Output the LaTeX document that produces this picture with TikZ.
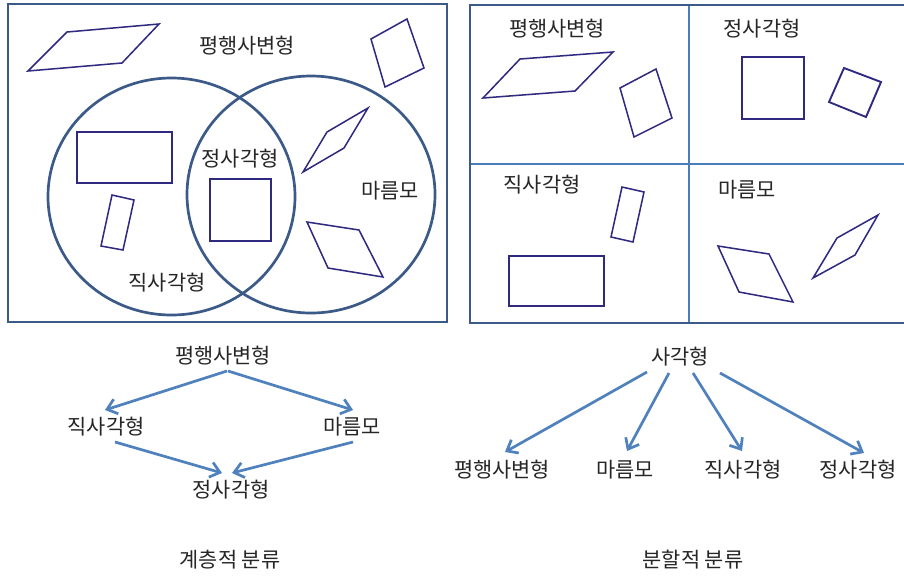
\documentclass[tikz,border=0pt]{standalone}
\usepackage{fontspec}
\setmainfont{Noto Sans CJK KR}
\usetikzlibrary{arrows.meta}
\definecolor{framec}{HTML}{3C5A88}
\definecolor{divc}{HTML}{4A7EBB}
\definecolor{shapec}{HTML}{2F2A80}
\definecolor{arrowc}{HTML}{4F81BD}
\begin{document}
\begin{tikzpicture}[x=0.03cm,y=-0.03cm,
  lbl/.style={font=\fontsize{17.8}{20}\selectfont, inner sep=1pt, text=black!85},
  fig/.style={draw=shapec, line width=1.3pt, line join=miter},
  framestyle/.style={draw=framec, line width=2.5pt},
  divstyle/.style={draw=divc, line width=2.3pt},
  conn/.style={draw=arrowc, line width=2.3pt, -{Straight Barb[length=8pt,width=13pt]}}]
\useasboundingbox (0,0) rectangle (904,577);
\fill[white] (0,0) rectangle (904,577);

% ---------- left panel (Venn) ----------
\draw[framestyle] (8,4) rectangle (447,322);
\draw[framestyle, line width=2.3pt] (171.5,196.5) ellipse [x radius=123.5, y radius=118.5];
\draw[framestyle, line width=2.3pt] (311,194.5) ellipse [x radius=124, y radius=118.5];

\draw[fig] (28,71) -- (67,32) -- (159,24) -- (122,63) -- cycle;
\draw[fig] (371,39) -- (407,19) -- (424,68) -- (385,87) -- cycle;
\draw[fig] (77,132) rectangle (172,183);
\draw[fig] (112,195) -- (134,200) -- (123,250) -- (101,246) -- cycle;
\draw[fig] (210,179) rectangle (271,241);
\draw[fig] (303,172) -- (327,132) -- (368,108) -- (344,148) -- cycle;
\draw[fig] (307,222) -- (359,230) -- (383,277) -- (328,268) -- cycle;

\node[lbl] (vp) at (247,46) {평행사변형};
\node[lbl] (vs) at (240,159) {정사각형};
\node[lbl] (vm) at (390,191) {마름모};
\node[lbl] (vr) at (167,283) {직사각형};

% ---------- right panel (partition) ----------
\draw[framestyle] (904,5) -- (470,5) -- (470,323) -- (904,323);
\draw[divstyle] (689,6) -- (689,322);
\draw[divstyle] (471,164) -- (904,164);

\draw[fig] (483,98) -- (520,59) -- (613,52) -- (575,91) -- cycle;
\draw[fig] (620,88) -- (656,69) -- (672,118) -- (634,137) -- cycle;
\draw[fig] (742,57) rectangle (804,119);
\draw[fig, line width=1.6pt] (829,102) -- (844,68) -- (881,82) -- (866,117) -- cycle;
\draw[fig] (622,187) -- (644,192) -- (633,242) -- (611,237) -- cycle;
\draw[fig] (509,256) rectangle (604,306);
\draw[fig] (718,246) -- (769,254) -- (793,302) -- (739,292) -- cycle;
\draw[fig] (813,278) -- (837,238) -- (878,215) -- (855,255) -- cycle;

\node[lbl] (pp) at (557,29) {평행사변형};
\node[lbl] (ps) at (762,29) {정사각형};
\node[lbl] (pr) at (542,185) {직사각형};
\node[lbl] (pm) at (747,190) {마름모};

% ---------- hierarchical tree ----------
\node[lbl] (hp) at (223,356) {평행사변형};
\node[lbl] (hr) at (106,427) {직사각형};
\node[lbl] (hm) at (352,427) {마름모};
\node[lbl] (hs) at (231,490) {정사각형};
\node[lbl] (hcap) at (230,560) {계층적 분류};

\draw[conn] ([shift={(4,15)}]hp.center) -- ([shift={(-1,-17)}]hr.center);
\draw[conn] ([shift={(5,15)}]hp.center) -- ([shift={(1,-17)}]hm.center);
\draw[conn] ([shift={(9,15)}]hr.center) -- ([shift={(-9,-17)}]hs.center);
\draw[conn] ([shift={(1,15)}]hm.center) -- ([shift={(1,-17)}]hs.center);

% ---------- partition tree ----------
\node[lbl] (q) at (680,357) {사각형};
\node[lbl] (d1) at (502,470) {평행사변형};
\node[lbl] (d2) at (625,470) {마름모};
\node[lbl] (d3) at (743,470) {직사각형};
\node[lbl] (d4) at (858,470) {정사각형};
\node[lbl] (dcap) at (693,560) {분할적 분류};

\draw[conn] ([shift={(-33,15)}]q.center) -- ([shift={(3,-18)}]d1.center);
\draw[conn] ([shift={(-11,16)}]q.center) -- ([shift={(2,-19)}]d2.center);
\draw[conn] ([shift={(13,16)}]q.center) -- ([shift={(-1,-19)}]d3.center);
\draw[conn] ([shift={(40,16)}]q.center) -- ([shift={(6,-17)}]d4.center);
\end{tikzpicture}
\end{document}
